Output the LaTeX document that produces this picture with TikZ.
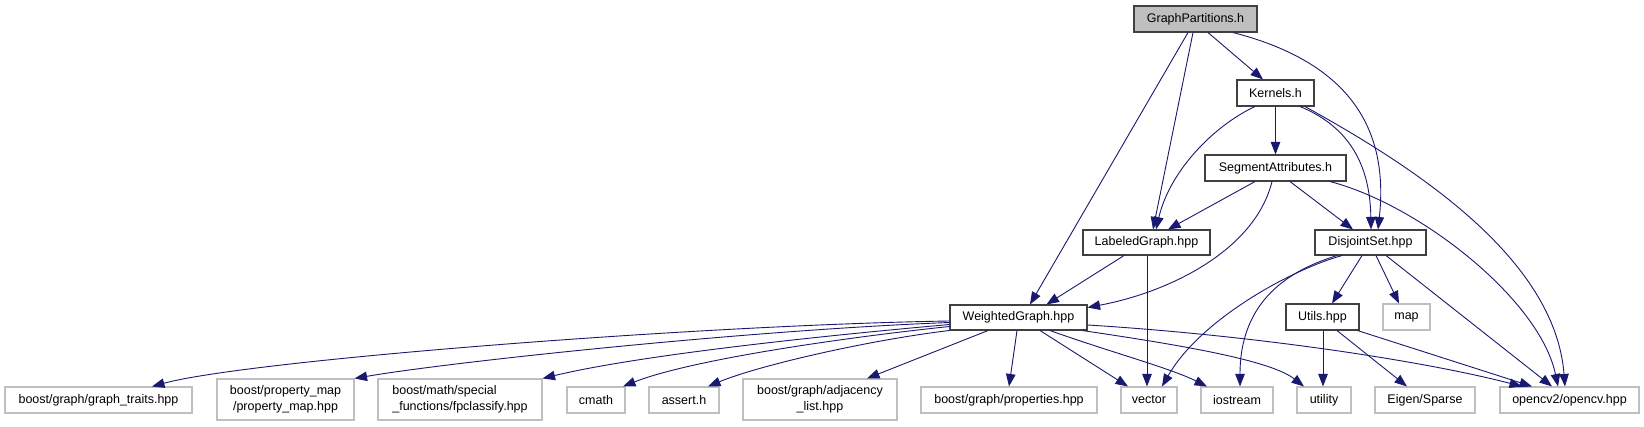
\documentclass[tikz,border=0pt]{standalone}
\usepackage{fontspec}
\setmainfont{Liberation Sans}
\usetikzlibrary{arrows.meta}
\definecolor{edgecol}{HTML}{191970}
\definecolor{intcol}{HTML}{404040}
\definecolor{extcol}{HTML}{BFBFBF}
\definecolor{gpfill}{HTML}{BFBFBF}
\tikzset{
  base/.style={rectangle, inner sep=0pt, minimum height=26pt, font=\fontsize{12.5}{15.5}\selectfont},
  intbox/.style={base, draw=intcol, line width=1.1pt, fill=white},
  extbox/.style={base, draw=extcol, line width=1.1pt, fill=white},
  rootbox/.style={base, draw=intcol, line width=1.1pt, fill=gpfill},
  edge/.style={draw=edgecol, line width=0.9pt, -{Triangle[length=12.5pt,width=9.5pt]}}
}
\begin{document}
\begin{tikzpicture}[x=1pt,y=-1pt]
\useasboundingbox[fill=white] (0,0) rectangle (1644,427);
% internal nodes
\node[rootbox, minimum width=123pt] (gp) at (1195.5,19) {GraphPartitions.h};
\node[intbox, minimum width=77pt] (kern) at (1275.5,93) {Kernels.h};
\node[intbox, minimum width=141pt] (seg) at (1275.5,168) {SegmentAttributes.h};
\node[intbox, minimum width=127pt, minimum height=25pt] (lg) at (1146.5,242.5) {LabeledGraph.hpp};
\node[intbox, minimum width=111pt, minimum height=25pt] (ds) at (1370.5,242.5) {DisjointSet.hpp};
\node[intbox, minimum width=137pt, minimum height=25pt] (wg) at (1018.5,317.5) {WeightedGraph.hpp};
\node[intbox, minimum width=73pt] (utils) at (1322.5,317) {Utils.hpp};
\node[extbox, minimum width=47pt] (map) at (1406.5,317) {map};
% bottom row
\node[extbox, minimum width=187pt] (gt) at (98.5,400) {boost/graph/graph\_traits.hpp};
\node[extbox, minimum width=137pt, minimum height=41pt, align=center] (pm) at (285.5,399.5) {boost/property\_map\\/property\_map.hpp};
\node[extbox, minimum width=164pt, minimum height=41pt, align=left] (fp) at (460,399.5) {boost/math/special\\\_functions/fpclassify.hpp};
\node[extbox, minimum width=58pt] (cm) at (596,400) {cmath};
\node[extbox, minimum width=70pt] (as) at (684,400) {assert.h};
\node[extbox, minimum width=154pt, minimum height=41pt, align=center] (adj) at (820,399.5) {boost/graph/adjacency\\\_list.hpp};
\node[extbox, minimum width=176pt] (prop) at (1009,400) {boost/graph/properties.hpp};
\node[extbox, minimum width=56pt] (vec) at (1149,400) {vector};
\node[extbox, minimum width=72pt] (ios) at (1237,400) {iostream};
\node[extbox, minimum width=54pt] (util) at (1324,400) {utility};
\node[extbox, minimum width=100pt] (eig) at (1425,400) {Eigen/Sparse};
\node[extbox, minimum width=139pt] (cv) at (1569.5,400) {opencv2/opencv.hpp};
% edges from GraphPartitions.h
\draw[edge] ([xshift=-7.5pt]gp.south) -- ([xshift=11.5pt]wg.north);
\draw[edge] ([xshift=-2.5pt]gp.south) -- ([xshift=6.5pt]lg.north);
\draw[edge] ([xshift=12.5pt]gp.south) -- ([xshift=-12.5pt]kern.north);
\draw[edge] ([xshift=37.5pt]gp.south) .. controls (1340,60) and (1390,120) .. ([xshift=7.5pt]ds.north);
% edges from Kernels.h
\draw[edge] ([xshift=-20.5pt]kern.south) .. controls (1215,125) and (1170,170) .. ([xshift=9.5pt]lg.north);
\draw[edge] (kern.south) -- (seg.north);
\draw[edge] ([xshift=24.5pt]kern.south) .. controls (1345,125) and (1370,160) .. ([xshift=0.5pt]ds.north);
\draw[edge] ([xshift=29.5pt]kern.south) .. controls (1420,170) and (1555,260) .. ([xshift=-4.5pt]cv.north);
% edges from SegmentAttributes.h
\draw[edge] ([xshift=-20.5pt]seg.south) -- ([xshift=21.5pt]lg.north);
\draw[edge] ([xshift=-3.5pt]seg.south) .. controls (1255,250) and (1170,292) .. ([yshift=10pt]wg.east);
\draw[edge] ([xshift=14.5pt]seg.south) -- ([xshift=-17.5pt]ds.north);
\draw[edge] ([xshift=54.5pt]seg.south) .. controls (1420,205) and (1540,300) .. ([xshift=-11.5pt]cv.north);
% edges from LabeledGraph.hpp
\draw[edge] ([xshift=-22.5pt]lg.south) -- ([xshift=28pt]wg.north);
\draw[edge] ([xshift=0.5pt]lg.south) -- ([xshift=-2pt]vec.north);
% edges from DisjointSet.hpp
\draw[edge] ([xshift=-28.5pt]ds.south) .. controls (1290,270) and (1200,320) .. ([xshift=13pt]vec.north);
\draw[edge] ([xshift=-33.5pt]ds.south) .. controls (1290,270) and (1240,300) .. ([xshift=3pt]ios.north);
\draw[edge] ([xshift=-8.5pt]ds.south) -- ([xshift=9.5pt]utils.north);
\draw[edge] ([xshift=5.5pt]ds.south) -- ([xshift=-7.5pt]map.north);
\draw[edge] ([xshift=15.5pt]ds.south) -- ([xshift=-17.5pt]cv.north);
% edges from Utils.hpp
\draw[edge] ([xshift=0.5pt]utils.south) -- ([xshift=-1pt]util.north);
\draw[edge] ([xshift=14.5pt]utils.south) -- ([xshift=-18pt]eig.north);
\draw[edge] ([xshift=-2pt]utils.south east) -- ([xshift=-37.5pt]cv.north);
% edges from WeightedGraph.hpp
\draw[edge] ([yshift=-7.5pt]wg.east) .. controls (1250,335) and (1420,360) .. ([xshift=-47.5pt]cv.north);
\draw[edge] ([xshift=64pt]wg.south) .. controls (1180,345) and (1270,360) .. ([xshift=-20pt]util.north);
\draw[edge] ([xshift=31.5pt]wg.south) .. controls (1110,352) and (1170,368) .. ([xshift=-30pt]ios.north);
\draw[edge] ([xshift=21.5pt]wg.south) -- ([xshift=-21pt]vec.north);
\draw[edge] ([xshift=-1.5pt]wg.south) -- (prop.north);
\draw[edge] ([xshift=-30.5pt]wg.south) -- ([xshift=47pt]adj.north);
\draw[edge] ([xshift=-69.5pt]wg.south) .. controls (870,340) and (760,365) .. ([xshift=24pt]as.north);
\draw[edge] ([yshift=-9pt]wg.west) .. controls (840,338) and (690,360) .. ([xshift=27pt]cm.north);
\draw[edge] ([yshift=-7pt]wg.west) .. controls (820,336) and (640,355) .. (fp.north east);
\draw[edge] ([yshift=-5pt]wg.west) .. controls (750,330) and (450,362) .. (pm.north east);
\draw[edge] ([yshift=-3.5pt]wg.west) .. controls (700,325) and (250,360) .. ([xshift=53.5pt]gt.north);
\end{tikzpicture}
\end{document}
